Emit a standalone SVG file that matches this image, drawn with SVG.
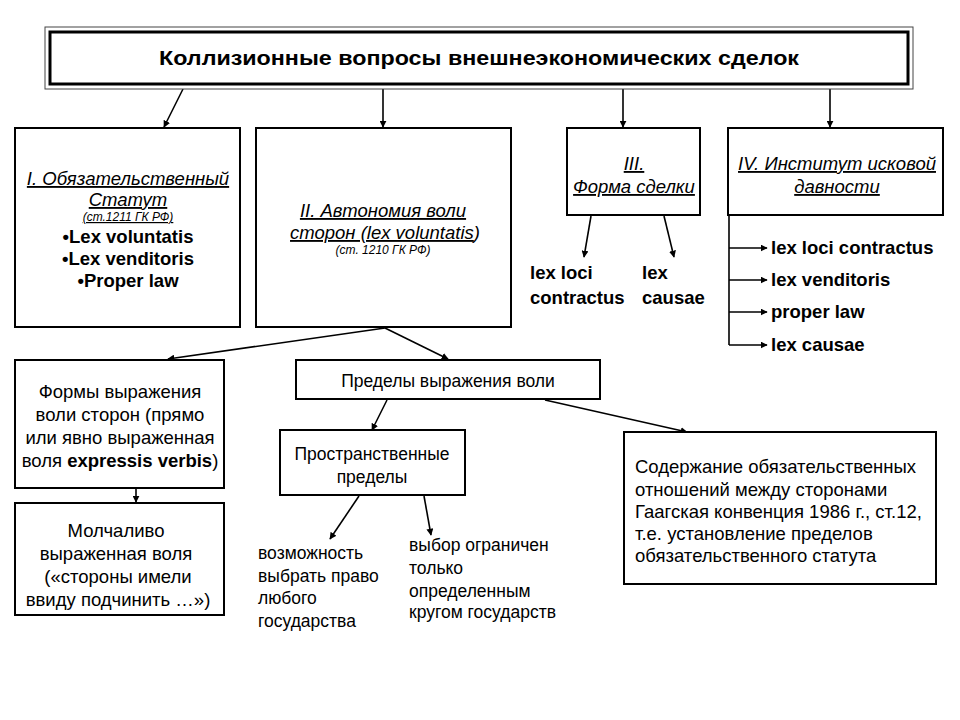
<svg xmlns="http://www.w3.org/2000/svg" width="960" height="720" viewBox="0 0 960 720">
<style>
text{font-family:"Liberation Sans",Arial,sans-serif;fill:#000}
.box{fill:#fff;stroke:#000;stroke-width:2}
.c{stroke:#000;stroke-width:1.6;fill:none}
.ca{stroke:#000;stroke-width:1.6;fill:none;marker-end:url(#ah)}
.it{font-style:italic;text-decoration:underline;font-size:18.5px}
.sm{font-style:italic;font-size:12px}
.b{font-weight:bold;font-size:18.5px}
.n{font-size:18.5px}
.m{font-size:17.5px}
</style>
<defs>
<marker id="ah" viewBox="0 0 10 10" refX="9" refY="5" markerWidth="7" markerHeight="7" orient="auto" markerUnits="userSpaceOnUse">
<path d="M0,0 L10,5 L0,10 z" fill="#000"/>
</marker>
</defs>
<rect width="960" height="720" fill="#fff"/>
<g id="connectors">
<line class="ca" x1="183" y1="89" x2="164" y2="127"/>
<line class="ca" x1="383" y1="89" x2="383" y2="127"/>
<line class="ca" x1="623" y1="89" x2="623" y2="127"/>
<line class="ca" x1="830" y1="89" x2="830" y2="127"/>
<line class="ca" x1="591" y1="216" x2="584" y2="257"/>
<line class="ca" x1="664" y1="216" x2="674" y2="257"/>
<polyline class="c" points="729,216 729,345"/>
<line class="ca" x1="729" y1="248" x2="767" y2="248"/>
<line class="ca" x1="729" y1="280" x2="767" y2="280"/>
<line class="ca" x1="729" y1="312" x2="767" y2="312"/>
<line class="ca" x1="729" y1="345" x2="767" y2="345"/>
<line class="ca" x1="385" y1="328" x2="168" y2="359"/>
<line class="ca" x1="385" y1="328" x2="448" y2="359"/>
<line class="ca" x1="136" y1="489" x2="136" y2="502"/>
<line class="ca" x1="387" y1="400" x2="372" y2="430"/>
<line class="ca" x1="545" y1="400" x2="687" y2="432"/>
<line class="ca" x1="359" y1="496" x2="330" y2="539"/>
<line class="ca" x1="424" y1="496" x2="431" y2="535"/>
</g>
<g id="title">
<rect x="45" y="27" width="868" height="62" fill="#fff" stroke="#444" stroke-width="1"/>
<rect x="50" y="32" width="858" height="52" fill="#fff" stroke="#000" stroke-width="3"/>
<text x="479" y="65" text-anchor="middle" font-weight="bold" font-size="20" textLength="640" lengthAdjust="spacingAndGlyphs">Коллизионные вопросы внешнеэкономических сделок</text>
</g>
<g id="n1">
<rect class="box" x="15" y="128" width="225" height="199"/>
<text class="it" x="128" y="185" text-anchor="middle">I. Обязательственный </text>
<text class="it" x="128" y="206" text-anchor="middle">Статут</text>
<text class="sm" x="128" y="221" text-anchor="middle" text-decoration="underline">(ст.1211 ГК РФ)</text>
<text class="b" x="128" y="243" text-anchor="middle" font-size="17.5">•Lex voluntatis</text>
<text class="b" x="128" y="265" text-anchor="middle" font-size="17.5">•Lex venditoris</text>
<text class="b" x="128" y="287" text-anchor="middle" font-size="17.5">•Proper law</text>
</g>
<g id="n2">
<rect class="box" x="256" y="128" width="255" height="199"/>
<text class="it" x="383" y="217" text-anchor="middle">II. Автономия воли</text>
<text x="385" y="239" text-anchor="middle" font-style="italic" font-size="18.5"><tspan text-decoration="underline">сторон (lex voluntatis</tspan>)</text>
<text class="sm" x="383" y="254" text-anchor="middle">(ст. 1210 ГК РФ)</text>
</g>
<g id="n3">
<rect class="box" x="567" y="128" width="133" height="87"/>
<text class="it" x="634" y="170" text-anchor="middle">III.</text>
<text class="it" x="634" y="193" text-anchor="middle">Форма сделки</text>
</g>
<g id="n3a">
<text class="b" x="530" y="279">lex loci</text>
<text class="b" x="530" y="304">contractus</text>
<text class="b" x="642" y="279">lex</text>
<text class="b" x="642" y="304">causae</text>
</g>
<g id="n4">
<rect class="box" x="728" y="128" width="215" height="87"/>
<text class="it" x="837" y="170" text-anchor="middle">IV. Институт исковой</text>
<text class="it" x="837" y="193" text-anchor="middle">давности</text>
</g>
<g id="n4a">
<text class="b" x="771" y="254">lex loci contractus</text>
<text class="b" x="771" y="286">lex venditoris</text>
<text class="b" x="771" y="318">proper law</text>
<text class="b" x="771" y="351">lex causae</text>
</g>
<g id="n5">
<rect class="box" x="15" y="360" width="209" height="128"/>
<text class="n" x="120" y="398" text-anchor="middle">Формы выражения</text>
<text class="n" x="120" y="421" text-anchor="middle">воли сторон (прямо</text>
<text class="n" x="120" y="444" text-anchor="middle">или  явно выраженная</text>
<text class="n" x="120" y="467" text-anchor="middle">воля <tspan font-weight="bold">expressis verbis</tspan>)</text>
</g>
<g id="n6">
<rect class="box" x="15" y="503" width="209" height="112"/>
<text class="n" x="116" y="537" text-anchor="middle">Молчаливо</text>
<text class="n" x="116" y="560" text-anchor="middle">выраженная воля</text>
<text class="n" x="118" y="583" text-anchor="middle">(«стороны имели</text>
<text class="n" x="118" y="606" text-anchor="middle">ввиду  подчинить …»)</text>
</g>
<g id="n7">
<rect class="box" x="296" y="360" width="304" height="39"/>
<text class="m" x="448" y="387" text-anchor="middle">Пределы выражения воли</text>
</g>
<g id="n8">
<rect class="box" x="280" y="430" width="185" height="65"/>
<text class="m" x="372" y="460" text-anchor="middle">Пространственные</text>
<text class="m" x="372" y="483" text-anchor="middle">пределы</text>
</g>
<g id="n9">
<text class="m" x="258" y="559">возможность</text>
<text class="m" x="258" y="582">выбрать право</text>
<text class="m" x="258" y="604">любого</text>
<text class="m" x="258" y="627">государства</text>
</g>
<g id="n10">
<text class="m" x="409" y="551">выбор ограничен</text>
<text class="m" x="409" y="574">только</text>
<text class="m" x="409" y="597">определенным</text>
<text class="m" x="409" y="618">кругом государств</text>
</g>
<g id="n11">
<rect class="box" x="624" y="432" width="312" height="152"/>
<text class="n" x="635" y="473">Содержание обязательственных</text>
<text class="n" x="635" y="496">отношений  между сторонами</text>
<text class="n" x="635" y="518">Гаагская конвенция 1986 г., ст.12,</text>
<text class="n" x="635" y="540">т.е. установление пределов</text>
<text class="n" x="635" y="562">обязательственного статута</text>
</g>
</svg>
